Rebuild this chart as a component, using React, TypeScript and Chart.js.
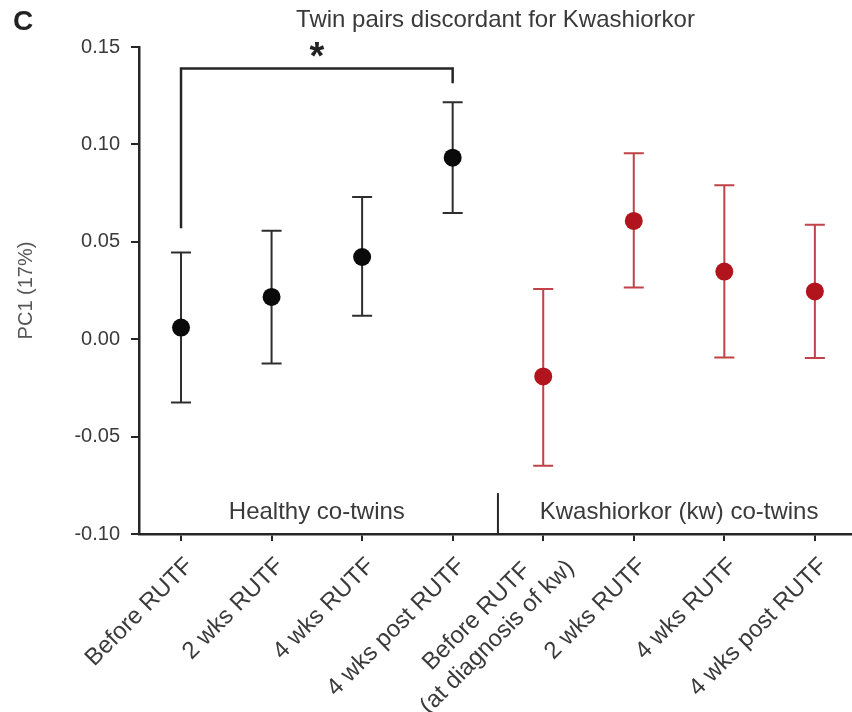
import { useEffect, useRef } from 'react';
import { Chart, registerables } from 'chart.js';

Chart.register(...registerables);

// Time points (wrapped labels are given as arrays of lines)
const categories: string[][] = [
  ['Before RUTF'],
  ['2 wks RUTF'],
  ['4 wks RUTF'],
  ['4 wks post RUTF'],
  ['Before RUTF', '(at diagnosis of kw)'],
  ['2 wks RUTF'],
  ['4 wks RUTF'],
  ['4 wks post RUTF'],
];

// Healthy co-twins: mean PC1 and error-bar limits (categories 0-3)
const healthyMean = [0.006, 0.0217, 0.0422, 0.0932];
const healthyLow = [-0.0325, -0.0125, 0.012, 0.0648];
const healthyHigh = [0.0445, 0.0557, 0.073, 0.1217];

// Kwashiorkor co-twins: mean PC1 and error-bar limits (categories 4-7)
const kwMean = [-0.0191, 0.0607, 0.0347, 0.0245];
const kwLow = [-0.065, 0.0265, -0.0094, -0.0097];
const kwHigh = [0.0258, 0.0954, 0.079, 0.0588];

const yTicks = [-0.1, -0.05, 0, 0.05, 0.1, 0.15];
const groupLabels = ['Healthy co-twins', 'Kwashiorkor (kw) co-twins'];
const groupCenters = [1.5, 5.5];
const groupDivider = 3.5;
const dividerTop = -0.079;

// Significance bracket between Before RUTF and 4 wks post RUTF (healthy)
const bracketFrom = 0;
const bracketTo = 3;
const bracketTop = 0.139;
const bracketFromEnd = 0.057;
const bracketToEnd = 0.1314;
const bracketMark = '*';

const FONT = '"Liberation Sans", Arial, Helvetica, sans-serif';
const AXIS = '#262626';
const TEXT = '#3a3a3a';
const BLACK_PT = '#0a0a0a';
const RED_PT = '#b2141d';
const BLACK_ERR = '#2e2e2e';
const RED_ERR = '#bf4347';

const errLow = [healthyLow, kwLow];
const errHigh = [healthyHigh, kwHigh];
const errColor = [BLACK_ERR, RED_ERR];

const LABEL_LINE_H = 29;
const WRAP_NUDGE = 12;

const errorBars = {
  id: 'errorBars',
  beforeDatasetsDraw(chart: any) {
    const { ctx } = chart;
    const x = chart.scales.x;
    const y = chart.scales.y;
    chart.data.datasets.forEach((ds: any, di: number) => {
      const lows = errLow[di];
      const highs = errHigh[di];
      ctx.save();
      ctx.strokeStyle = errColor[di];
      ctx.lineWidth = 2;
      ds.data.forEach((p: any, i: number) => {
        const px = x.getPixelForValue(p.x);
        const yl = y.getPixelForValue(lows[i]);
        const yh = y.getPixelForValue(highs[i]);
        const cap = 10;
        ctx.beginPath();
        ctx.moveTo(px, yl);
        ctx.lineTo(px, yh);
        ctx.moveTo(px - cap, yl);
        ctx.lineTo(px + cap, yl);
        ctx.moveTo(px - cap, yh);
        ctx.lineTo(px + cap, yh);
        ctx.stroke();
      });
      ctx.restore();
    });
  },
};

const annotations = {
  id: 'annotations',
  afterDraw(chart: any) {
    const { ctx, chartArea } = chart;
    const x = chart.scales.x;
    const y = chart.scales.y;
    const bottom = chartArea.bottom;

    // rotated category labels
    ctx.save();
    ctx.font = `24px ${FONT}`;
    ctx.fillStyle = TEXT;
    ctx.textBaseline = 'middle';
    ctx.textAlign = 'center';
    categories.forEach((lines, i) => {
      const px = x.getPixelForValue(i);
      const W = Math.max(...lines.map((l) => ctx.measureText(l).width));
      const n = lines.length;
      const uEnd = -14 + (n - 1) * WRAP_NUDGE;
      const vMid = 26;
      ctx.save();
      ctx.translate(px, bottom);
      ctx.rotate(-Math.PI / 4);
      lines.forEach((l, k) => {
        const v = vMid + (k - (n - 1) / 2) * LABEL_LINE_H;
        ctx.fillText(l, uEnd - W / 2, v);
      });
      ctx.restore();
    });
    ctx.restore();

    // group labels and divider
    ctx.save();
    ctx.font = `24px ${FONT}`;
    ctx.fillStyle = TEXT;
    ctx.textAlign = 'center';
    ctx.textBaseline = 'alphabetic';
    groupLabels.forEach((g, i) => {
      ctx.fillText(g, x.getPixelForValue(groupCenters[i]), bottom - 15);
    });
    ctx.strokeStyle = AXIS;
    ctx.lineWidth = 2;
    const dx = x.getPixelForValue(groupDivider);
    ctx.beginPath();
    ctx.moveTo(dx, bottom);
    ctx.lineTo(dx, y.getPixelForValue(dividerTop));
    ctx.stroke();
    ctx.restore();

    // significance bracket
    ctx.save();
    const x0 = x.getPixelForValue(bracketFrom);
    const x1 = x.getPixelForValue(bracketTo);
    const yt = y.getPixelForValue(bracketTop);
    ctx.strokeStyle = AXIS;
    ctx.lineWidth = 2.5;
    ctx.lineJoin = 'miter';
    ctx.beginPath();
    ctx.moveTo(x0, y.getPixelForValue(bracketFromEnd));
    ctx.lineTo(x0, yt);
    ctx.lineTo(x1, yt);
    ctx.lineTo(x1, y.getPixelForValue(bracketToEnd));
    ctx.stroke();
    ctx.font = `bold 38px ${FONT}`;
    ctx.fillStyle = '#222';
    ctx.textAlign = 'center';
    ctx.textBaseline = 'alphabetic';
    const m = ctx.measureText(bracketMark);
    const cy = yt - 19;
    const base = cy + (m.actualBoundingBoxAscent - m.actualBoundingBoxDescent) / 2;
    ctx.fillText(bracketMark, (x0 + x1) / 2, base);
    ctx.restore();

    // panel letter
    ctx.save();
    ctx.font = `bold 28px ${FONT}`;
    ctx.fillStyle = '#222';
    ctx.textAlign = 'left';
    ctx.textBaseline = 'alphabetic';
    ctx.fillText('C', 13, 30);
    ctx.restore();
  },
};

export default function App() {
  const canvasRef = useRef<HTMLCanvasElement | null>(null);

  useEffect(() => {
    const canvas = canvasRef.current;
    if (!canvas) return;

    const chart = new Chart(canvas, {
      type: 'scatter',
      data: {
        datasets: [
          {
            label: groupLabels[0],
            data: healthyMean.map((v, i) => ({ x: i, y: v })),
            pointRadius: 9,
            pointHoverRadius: 9,
            pointBackgroundColor: BLACK_PT,
            pointBorderWidth: 0,
            showLine: false,
          },
          {
            label: groupLabels[1],
            data: kwMean.map((v, i) => ({ x: i + 4, y: v })),
            pointRadius: 9,
            pointHoverRadius: 9,
            pointBackgroundColor: RED_PT,
            pointBorderWidth: 0,
            showLine: false,
          },
        ],
      },
      options: {
        animation: false,
        responsive: false,
        devicePixelRatio: 1,
        layout: { autoPadding: false, padding: { top: 0, right: 0, bottom: 0, left: 0 } },
        plugins: {
          legend: { display: false },
          tooltip: { enabled: false },
          title: {
            display: true,
            text: 'Twin pairs discordant for Kwashiorkor',
            fullSize: false,
            color: TEXT,
            font: { family: FONT, size: 24, weight: 'normal' },
            padding: { top: 6, bottom: 12.2 },
          },
        },
        scales: {
          x: {
            type: 'linear',
            min: -0.464,
            max: 7.41,
            afterBuildTicks: (s: any) => {
              s.ticks = categories.map((_, i) => ({ value: i }));
            },
            afterFit: (s: any) => {
              s.height = 178;
            },
            ticks: { display: false },
            grid: {
              display: true,
              drawOnChartArea: false,
              drawTicks: true,
              tickLength: 7,
              color: AXIS,
              lineWidth: 2,
            },
            border: { display: true, color: AXIS, width: 2.5 },
          },
          y: {
            type: 'linear',
            min: -0.1,
            max: 0.15,
            afterBuildTicks: (s: any) => {
              s.ticks = yTicks.map((v) => ({ value: v }));
            },
            afterFit: (s: any) => {
              s.width = 139;
            },
            ticks: {
              color: TEXT,
              padding: 11,
              font: { family: FONT, size: 20 },
              callback: (v: any) => (Math.abs(v) < 1e-9 ? '0.00' : Number(v).toFixed(2)),
            },
            grid: {
              display: true,
              drawOnChartArea: false,
              drawTicks: true,
              tickLength: 8,
              color: AXIS,
              lineWidth: 2,
            },
            border: { display: true, color: AXIS, width: 2.5 },
            title: {
              display: true,
              text: 'PC1 (17%)',
              color: '#555',
              font: { family: FONT, size: 20 },
              padding: { top: 14, bottom: 0 },
            },
          },
        },
      },
      plugins: [errorBars, annotations],
    } as any);

    return () => chart.destroy();
  }, []);

  return (
    <div style={{ position: 'absolute', left: 0, top: 0, width: 852, height: 712, background: '#fff' }}>
      <canvas ref={canvasRef} width={852} height={712} style={{ display: 'block' }} />
    </div>
  );
}
